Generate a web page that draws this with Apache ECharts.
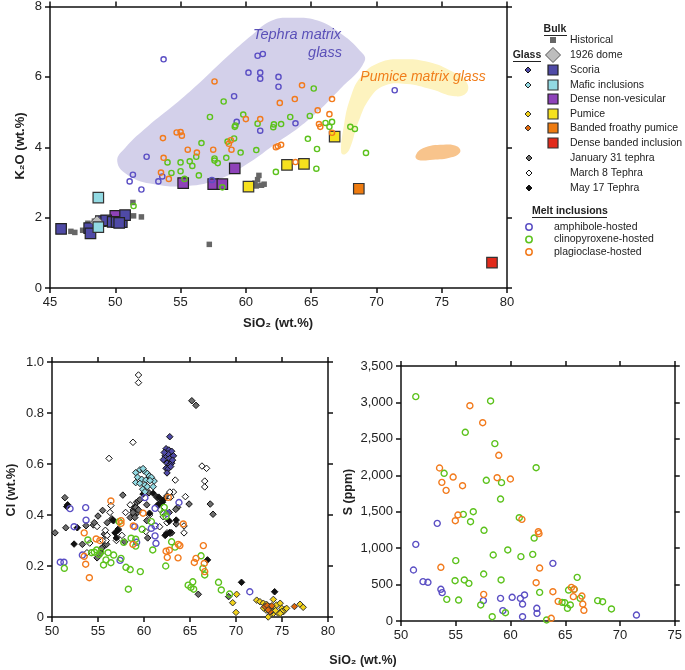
<!DOCTYPE html>
<html><head><meta charset="utf-8">
<script src="https://cdn.jsdelivr.net/npm/echarts/dist/echarts.min.js"></script>
<style>html,body{margin:0;padding:0;background:#fff}#c{width:685px;height:670px}</style>
</head><body><div id="c"></div>
<script>
// ---------- Top panel: K2O vs SiO2 ----------
const k2oHistorical = [[46.6,1.61],[46.9,1.58],[47.5,1.64],[47.9,1.84],[48.4,1.9],[49.5,1.95],[51.35,2.43],[51.4,2.05],[52.0,2.02],[57.2,1.24],[60.7,2.98],[60.9,3.08],[61.0,3.2],[61.2,2.92],[60.8,2.9],[61.4,2.95]];
const k2oDome1926 = [[48.6,1.87]];
const k2oScoria = [[45.85,1.68],[48.0,1.7],[48.1,1.55],[48.9,1.9],[49.3,1.92],[49.8,1.88],[50.1,1.87],[50.5,1.87],[50.75,2.07],[50.3,1.85]];
const k2oMafic = [[48.7,2.57],[48.7,1.73]];
const k2oDenseNV = [[50.0,2.05],[55.2,2.98],[57.5,2.95],[58.2,2.95],[59.15,3.4]];
const k2oPumice = [[60.2,2.88],[63.15,3.5],[64.45,3.53],[66.8,4.3]];
const k2oBanded = [[68.65,2.82]];
const k2oDenseBanded = [[78.85,0.72]];
const k2oAmph = [[53.7,6.5],[52.4,3.73],[51.35,3.22],[51.1,3.03],[52.0,2.8],[53.3,3.03],[53.6,3.17],[57.4,3.07],[59.1,5.45],[59.3,4.72],[60.9,6.6],[61.3,6.65],[60.2,6.12],[61.1,6.12],[61.1,5.95],[62.5,6.0],[62.5,5.72],[63.8,4.68],[61.1,4.47],[71.4,5.62]];
const k2oCpx = [[51.4,2.33],[54.0,3.57],[54.3,3.27],[55.0,3.57],[55.0,3.32],[55.3,3.1],[55.7,3.6],[55.9,3.47],[56.2,3.73],[56.6,4.12],[56.4,3.2],[57.25,4.86],[57.6,3.62],[57.6,3.68],[57.85,3.55],[58.3,5.3],[58.5,3.7],[58.6,4.16],[59.1,4.25],[59.15,4.58],[59.2,4.62],[59.6,3.85],[59.8,4.93],[58.2,2.86],[60.8,3.92],[60.9,4.67],[62.1,4.57],[62.15,4.65],[62.7,4.66],[63.4,4.86],[65.2,5.67],[64.9,4.89],[66.1,4.69],[66.6,4.72],[66.4,4.58],[64.75,4.24],[65.45,3.95],[68.0,4.58],[68.35,4.52],[69.2,3.84],[62.3,3.3],[65.4,3.39]];
const k2oPlag = [[57.6,5.87],[53.65,4.26],[53.7,3.7],[53.5,3.28],[54.1,3.1],[54.7,4.42],[55.0,4.43],[55.1,4.33],[55.55,3.93],[56.25,3.85],[57.5,3.93],[58.7,4.1],[58.85,4.2],[58.9,3.93],[60.0,4.8],[61.1,4.8],[64.3,5.76],[62.6,5.26],[63.75,5.37],[66.6,5.37],[65.5,5.05],[66.4,4.94],[65.6,4.66],[65.7,4.58],[66.6,4.41],[62.3,4.0],[62.45,4.03],[62.7,4.07],[63.8,3.58]];
// field outlines (SiO2, K2O)
const tephraField = [[50.15,3.6],[50.8,4.0],[52.5,4.6],[54.5,5.2],[56.5,5.85],[58.5,6.55],[60.5,7.2],[62.0,7.6],[63.5,7.68],[65.5,7.6],[67.2,7.25],[68.6,6.8],[69.1,6.45],[67.2,5.65],[64.7,4.75],[62.1,4.05],[60.0,3.5],[58.0,3.1],[55.5,2.9],[53.0,2.95],[51.0,3.2]];
const pumiceField = [[67.3,3.85],[67.5,4.6],[68.0,5.4],[68.8,6.0],[70.2,6.4],[72.0,6.5],[74.0,6.42],[75.8,6.15],[76.9,5.85],[76.9,5.55],[76.0,5.45],[74.2,5.65],[72.3,5.8],[70.6,5.75],[69.5,5.4],[68.6,4.7],[68.0,4.0],[67.6,3.8]];
const bandedField = [[73.0,3.76],[73.6,3.98],[75.1,4.07],[76.2,4.02],[76.4,3.85],[75.6,3.7],[74.1,3.64],[73.2,3.64]];

// ---------- Bottom-left: Cl vs SiO2 ----------
const clJan31 = [[50.33,0.33],[51.4,0.468],[51.5,0.35],[53.3,0.285],[53.7,0.358],[54.5,0.361],[55.0,0.396],[54.6,0.37],[55.5,0.418],[57.7,0.478],[54.9,0.232],[55.3,0.25],[55.6,0.276],[55.4,0.27],[55.9,0.32],[55.7,0.325],[55.94,0.285],[56.0,0.37],[56.5,0.385],[57.9,0.295],[58.84,0.42],[59.0,0.43],[59.13,0.43],[59.2,0.45],[59.3,0.41],[59.4,0.455],[59.4,0.42],[58.9,0.40],[59.56,0.46],[60.3,0.378],[60.4,0.31],[60.3,0.44],[60.55,0.487],[61.4,0.47],[61.46,0.469],[61.74,0.446],[62.5,0.475],[62.75,0.41],[63.0,0.33],[63.5,0.365],[63.65,0.43],[62.83,0.328],[63.45,0.422],[65.2,0.848],[65.65,0.83],[67.2,0.443],[67.5,0.403],[64.9,0.443],[65.9,0.089],[69.2,0.08],[58.5,0.39],[59.0,0.39],[58.8,0.41]];
const clMar8 = [[59.4,0.949],[59.4,0.919],[58.8,0.685],[56.2,0.622],[63.4,0.537],[63.2,0.49],[62.9,0.47],[58.5,0.44],[58.0,0.41],[56.4,0.437],[56.3,0.41],[54.9,0.355],[55.8,0.34],[55.9,0.30],[54.1,0.29],[53.8,0.252],[57.0,0.30],[57.2,0.345],[60.2,0.335],[61.7,0.354],[62.1,0.393],[62.5,0.37],[62.5,0.33],[66.3,0.592],[66.8,0.583],[66.6,0.533],[66.6,0.51],[64.5,0.472],[64.35,0.357],[64.35,0.33],[55.5,0.30],[56.0,0.32],[57.6,0.32],[60.6,0.4],[61.8,0.42],[62.8,0.49]];
const clMay17 = [[51.6,0.433],[51.7,0.44],[52.4,0.286],[52.75,0.35],[56.7,0.378],[57.2,0.341],[56.85,0.33],[57.0,0.31],[56.6,0.38],[59.9,0.482],[60.6,0.407],[61.0,0.485],[61.5,0.44],[61.6,0.47],[62.0,0.45],[62.1,0.459],[62.4,0.324],[62.3,0.32],[62.75,0.376],[62.8,0.332],[63.5,0.38],[66.9,0.224],[70.6,0.136],[74.2,0.099]];
const clScoria = [[62.8,0.707],[62.4,0.66],[62.7,0.655],[63.0,0.65],[62.3,0.632],[62.75,0.622],[63.2,0.632],[62.1,0.617],[62.5,0.603],[62.8,0.597],[62.4,0.583],[62.6,0.58],[63.0,0.603],[62.9,0.59],[62.6,0.64],[62.2,0.645],[63.1,0.615],[62.5,0.565]];
const clMafic = [[59.1,0.566],[59.55,0.577],[60.0,0.573],[60.36,0.563],[60.58,0.553],[60.8,0.548],[61.1,0.533],[59.3,0.548],[59.75,0.54],[60.2,0.537],[60.65,0.535],[59.1,0.527],[59.55,0.524],[60.1,0.518],[60.36,0.511],[59.86,0.501],[60.1,0.491],[59.9,0.582],[61.0,0.511]];
const clPumice = [[70.07,0.089],[69.64,0.056],[70.0,0.018],[72.25,0.066],[72.6,0.06],[72.97,0.054],[73.3,0.05],[73.7,0.041],[74.06,0.034],[74.4,0.047],[74.8,0.054],[74.97,0.034],[75.33,0.03],[75.15,0.021],[73.7,0.008],[73.5,0.0],[74.06,0.014],[74.6,0.014],[74.97,0.021],[74.06,0.069],[76.96,0.05],[77.3,0.038],[73.27,0.027],[73.9,0.024],[74.8,0.014],[75.5,0.034],[73.0,0.035],[74.3,0.025]];
const clBanded = [[73.16,0.041],[73.7,0.034],[73.7,0.021],[73.4,0.045],[76.35,0.041],[73.9,0.044],[73.5,0.028]];
const clAmph = [[50.9,0.215],[51.3,0.215],[51.96,0.425],[52.4,0.354],[53.66,0.429],[53.7,0.38],[53.3,0.243],[57.4,0.222],[59.0,0.354],[59.2,0.293],[60.1,0.468],[60.8,0.348],[61.2,0.357],[61.2,0.318],[61.3,0.289],[61.2,0.426],[62.5,0.406],[63.8,0.449],[71.5,0.099]];
const clCpx = [[51.34,0.191],[53.9,0.302],[54.3,0.252],[54.6,0.254],[54.86,0.263],[55.14,0.246],[55.6,0.204],[55.87,0.224],[56.1,0.252],[56.4,0.213],[56.7,0.243],[57.5,0.23],[57.3,0.374],[57.8,0.293],[58.04,0.195],[58.5,0.186],[58.3,0.109],[58.6,0.309],[59.1,0.305],[59.1,0.278],[59.6,0.178],[59.8,0.344],[60.8,0.374],[60.95,0.263],[62.36,0.2],[62.1,0.407],[62.4,0.395],[62.2,0.43],[63.37,0.274],[63.0,0.295],[66.2,0.24],[66.4,0.191],[66.6,0.165],[64.8,0.125],[65.1,0.116],[65.3,0.138],[65.4,0.109],[68.1,0.136],[68.4,0.106],[69.3,0.09],[55.3,0.255]];
const clPlag = [[53.5,0.33],[53.66,0.207],[54.06,0.154],[53.5,0.238],[54.8,0.306],[55.2,0.3],[56.4,0.455],[57.5,0.378],[57.5,0.367],[58.8,0.285],[58.84,0.357],[59.9,0.407],[62.4,0.258],[62.53,0.234],[62.75,0.262],[62.64,0.469],[63.7,0.232],[63.9,0.28],[64.27,0.365],[63.73,0.285],[66.45,0.28],[65.65,0.23],[65.47,0.214],[66.55,0.21],[66.6,0.178]];

// ---------- Bottom-right: S vs SiO2 ----------
const sAmph = [[53.31,1340],[51.35,1052],[51.14,700],[52.01,540],[52.46,531],[53.64,435],[53.76,389],[57.52,279],[59.09,311],[59.3,142],[60.15,325],[60.9,311],[61.28,357],[61.1,233],[61.1,59],[63.87,791],[62.4,174],[62.42,105],[71.5,82]];
const sCpx = [[51.35,3079],[58.18,3020],[55.87,2590],[58.57,2434],[53.94,2027],[57.79,1931],[59.18,1899],[59.09,1674],[55.69,1464],[56.6,1500],[56.35,1363],[57.58,1245],[55.0,828],[58.42,906],[59.75,975],[54.94,553],[55.78,563],[56.2,517],[57.55,645],[59.14,563],[54.18,297],[55.26,288],[57.28,220],[58.33,59],[59.54,114],[62.34,2104],[60.8,1418],[62.16,1139],[60.95,883],[62.03,915],[62.66,393],[66.09,599],[65.3,425],[65.82,435],[64.71,256],[64.95,251],[65.46,220],[65.2,174],[66.36,311],[67.96,279],[68.41,265],[69.22,165],[63.3,14]];
const sPlag = [[56.29,2955],[57.46,2722],[58.93,2274],[53.52,2100],[53.73,1903],[54.76,1976],[54.12,1793],[55.62,1857],[58.78,1967],[55.2,1455],[54.96,1377],[53.64,737],[57.55,366],[59.99,1949],[61.04,1395],[62.54,1226],[62.6,1199],[62.66,727],[62.34,526],[63.87,402],[64.35,270],[65.56,462],[65.8,435],[65.74,334],[66.52,343],[66.6,233],[66.7,147],[63.72,37]];

// ---------- styling ----------
const FONT = 'Liberation Sans, Arial, Helvetica, sans-serif';
const C = {
  amph:'#5b4fc4', cpx:'#5cc21c', plag:'#f27a1c',
  hist:'#666666', dome:'#bdbdbd', scoria:'#4f4aa6', mafic:'#92dae3', denseNV:'#8e42b9',
  pumice:'#f6e11e', banded:'#ee7b10', denseBanded:'#e12a1b',
  jan:'#6e6e6e', mar:'#ffffff', may:'#111111'
};

function axisCommon(extra){
  return Object.assign({
    axisLine:{show:true,onZero:false,lineStyle:{color:'#111',width:1.5}},
    axisTick:{show:true,inside:false,length:5,lineStyle:{color:'#111',width:1.5}},
    splitLine:{show:false},
    axisLabel:{color:'#222',fontSize:13,fontFamily:FONT,margin:8}
  }, extra);
}
function mirror(a){ a.axisLabel = {show:false}; return a; }
const commaFmt = v => v.toLocaleString('en-US');
const clFmt = v => v === 0 ? '0' : v.toFixed(1);

const xAxis = [
  axisCommon({gridIndex:0,type:'value',min:45,max:80,interval:5,position:'bottom'}),
  mirror(axisCommon({gridIndex:0,type:'value',min:45,max:80,interval:5,position:'top'})),
  axisCommon({gridIndex:1,type:'value',min:50,max:80,interval:5,position:'bottom'}),
  mirror(axisCommon({gridIndex:1,type:'value',min:50,max:80,interval:5,position:'top'})),
  axisCommon({gridIndex:2,type:'value',min:50,max:75,interval:5,position:'bottom'}),
  mirror(axisCommon({gridIndex:2,type:'value',min:50,max:75,interval:5,position:'top'}))
];
const yAxis = [
  axisCommon({gridIndex:0,type:'value',min:0,max:8,interval:2,position:'left'}),
  mirror(axisCommon({gridIndex:0,type:'value',min:0,max:8,interval:2,position:'right'})),
  axisCommon({gridIndex:1,type:'value',min:0,max:1,interval:0.2,position:'left'}),
  mirror(axisCommon({gridIndex:1,type:'value',min:0,max:1,interval:0.2,position:'right'})),
  axisCommon({gridIndex:2,type:'value',min:0,max:3500,interval:500,position:'left'}),
  mirror(axisCommon({gridIndex:2,type:'value',min:0,max:3500,interval:500,position:'right'}))
];
yAxis[2].axisLabel.formatter = clFmt;
yAxis[4].axisLabel.formatter = commaFmt;

function field(points, color){
  return {type:'custom', xAxisIndex:0, yAxisIndex:0, silent:true, z:1, data:[[points[0][0],points[0][1]]],
    renderItem:function(params, api){
      return {type:'polygon', shape:{points:points.map(p=>api.coord(p)), smooth:0.45}, style:{fill:color}};
    }};
}
function sc(data, xi, yi, symbol, size, fill, stroke, bw, z){
  return {type:'scatter', xAxisIndex:xi, yAxisIndex:yi, data:data, symbol:symbol, symbolSize:size, clip:false, silent:true, z:z||3,
    itemStyle:{color:fill, borderColor:stroke, borderWidth:bw, opacity:1}};
}
function ring(data, xi, yi, color, size){ return sc(data, xi, yi, 'circle', size, 'rgba(0,0,0,0)', color, 1.4, 6); }

const series = [
  field(tephraField, '#d3d0ea'),
  field(pumiceField, '#fdf3bf'),
  field(bandedField, '#f8c48c'),
  sc(k2oHistorical,0,0,'rect',5.5,C.hist,C.hist,0,3),
  sc(k2oDenseNV,0,0,'rect',10.5,C.denseNV,'#222',1.2,4),
  sc(k2oScoria,0,0,'rect',10.5,C.scoria,'#222',1.2,4),
  sc(k2oDome1926,0,0,'diamond',13,C.dome,'#555',1,4),
  sc(k2oMafic,0,0,'rect',10.5,C.mafic,'#333',1.2,4),
  sc(k2oPumice,0,0,'rect',10.5,C.pumice,'#333',1.2,4),
  sc(k2oBanded,0,0,'rect',10.5,C.banded,'#333',1.2,4),
  sc(k2oDenseBanded,0,0,'rect',10.5,C.denseBanded,'#333',1.2,4),
  ring(k2oAmph,0,0,C.amph,5.2),
  ring(k2oCpx,0,0,C.cpx,5.2),
  ring(k2oPlag,0,0,C.plag,5.2),
  // Cl panel
  sc(clJan31,2,2,'diamond',6.5,C.jan,'#111',1,3),
  sc(clMar8,2,2,'diamond',6.5,C.mar,'#111',1,3),
  sc(clMay17,2,2,'diamond',6.5,C.may,'#111',1,3),
  sc(clScoria,2,2,'diamond',6.5,C.scoria,'#111',1,3),
  sc(clMafic,2,2,'diamond',6.5,C.mafic,'#222',1,3),
  sc(clPumice,2,2,'diamond',6.5,'#f2d21a','#333',1,3),
  sc(clBanded,2,2,'diamond',6.5,'#e0680c','#333',1,3),
  ring(clAmph,2,2,C.amph,6),
  ring(clCpx,2,2,C.cpx,6),
  ring(clPlag,2,2,C.plag,6),
  // S panel
  ring(sAmph,4,4,C.amph,6),
  ring(sCpx,4,4,C.cpx,6),
  ring(sPlag,4,4,C.plag,6)
];

// ---------- graphic: titles, field labels, legend ----------
function T(x,y,text,opt){
  opt = opt||{};
  const st = {text:text, fontSize:opt.size||10.5, fontFamily:FONT, fontWeight:opt.bold?'bold':'normal', fontStyle:opt.italic?'italic':'normal',
    fill:opt.color||'#222', align:opt.align||'left', textAlign:opt.align||'left', verticalAlign:'middle', textVerticalAlign:'middle'};
  const e = {type:'text', x:x, y:y, style:st, silent:true, z:50};
  if (opt.rot) e.rotation = opt.rot;
  return e;
}
function Ldiamond(cx,cy,r,fill,stroke){ return {type:'polygon', silent:true, z:50, shape:{points:[[cx,cy-r],[cx+r,cy],[cx,cy+r],[cx-r,cy]]}, style:{fill:fill, stroke:stroke, lineWidth:1}}; }
function Lsquare(cx,cy,s,fill,stroke,lw){ return {type:'rect', silent:true, z:50, shape:{x:cx-s/2,y:cy-s/2,width:s,height:s}, style:{fill:fill, stroke:stroke, lineWidth:lw}}; }
function Lring(cx,cy,color){ return {type:'circle', silent:true, z:50, shape:{cx:cx,cy:cy,r:3.2}, style:{fill:'none', stroke:color, lineWidth:1.5}}; }
function Uline(x1,x2,y){ return {type:'line', silent:true, z:50, shape:{x1:x1,y1:y,x2:x2,y2:y}, style:{stroke:'#222', lineWidth:1}}; }

const dX = 528, sX = 553, tX = 570;
const graphic = [
  T(20,146,'K₂O (wt.%)',{size:13,bold:true,align:'center',rot:Math.PI/2}),
  T(278,323,'SiO₂ (wt.%)',{size:13,bold:true,align:'center'}),
  T(12,490,'Cl (wt.%)',{size:12.5,bold:true,align:'center',rot:Math.PI/2}),
  T(349,492,'S (ppm)',{size:12.5,bold:true,align:'center',rot:Math.PI/2}),
  T(363,661,'SiO₂ (wt.%)',{size:12.5,bold:true,align:'center'}),
  T(297,35,'Tephra matrix',{size:14.5,italic:true,color:'#5a50b8',align:'center'}),
  T(325,53,'glass',{size:14.5,italic:true,color:'#5a50b8',align:'center'}),
  T(423,77,'Pumice matrix glass',{size:14,italic:true,color:'#f07d1a',align:'center'}),
  // legend
  T(555,29,'Bulk',{bold:true,align:'center'}), Uline(544,567,35.5),
  Lsquare(sX,40,6,C.hist,C.hist,0), T(tX,40,'Historical'),
  T(527,55,'Glass',{bold:true,align:'center'}), Uline(513,541,61.5),
  Ldiamond(sX,55,7.5,C.dome,'#555'), T(tX,55,'1926 dome'),
  Ldiamond(dX,70,3,C.scoria,'#111'), Lsquare(sX,70,10,C.scoria,'#222',1.2), T(tX,70,'Scoria'),
  Ldiamond(dX,85,3,C.mafic,'#222'), Lsquare(sX,85,10,C.mafic,'#333',1.2), T(tX,85,'Mafic inclusions'),
  Lsquare(sX,99,10,C.denseNV,'#222',1.2), T(tX,99,'Dense non-vesicular'),
  Ldiamond(dX,114,3,'#f2d21a','#333'), Lsquare(sX,114,10,C.pumice,'#333',1.2), T(tX,114,'Pumice'),
  Ldiamond(dX,128,3,'#e0680c','#333'), Lsquare(sX,128,10,C.banded,'#333',1.2), T(tX,128,'Banded froathy pumice'),
  Lsquare(sX,143,10,C.denseBanded,'#333',1.2), T(tX,143,'Dense banded inclusion'),
  Ldiamond(dX+1,158,3,C.jan,'#111'), T(tX,158,'January 31 tephra'),
  Ldiamond(dX+1,173,3,'#fff','#111'), T(tX,173,'March 8 Tephra'),
  Ldiamond(dX+1,188,3,C.may,'#111'), T(tX,188,'May 17 Tephra'),
  T(532,211,'Melt inclusions',{bold:true}), Uline(532,607,217.5),
  Lring(dX+1,227,C.amph), T(554,227,'amphibole-hosted'),
  Lring(dX+1,239.5,C.cpx), T(554,239.5,'clinopyroxene-hosted'),
  Lring(dX+1,252,C.plag), T(554,252,'plagioclase-hosted')
];

const chart = echarts.init(document.getElementById('c'), null, {renderer:'canvas'});
chart.setOption({
  animation:false,
  backgroundColor:'#ffffff',
  textStyle:{fontFamily:FONT},
  grid:[
    {left:50, top:5, width:457, height:283},
    {left:52, top:362, width:276, height:255},
    {left:401, top:366, width:277, height:255}
  ],
  xAxis:xAxis, yAxis:yAxis, series:series, graphic:graphic
});
</script></body></html>
